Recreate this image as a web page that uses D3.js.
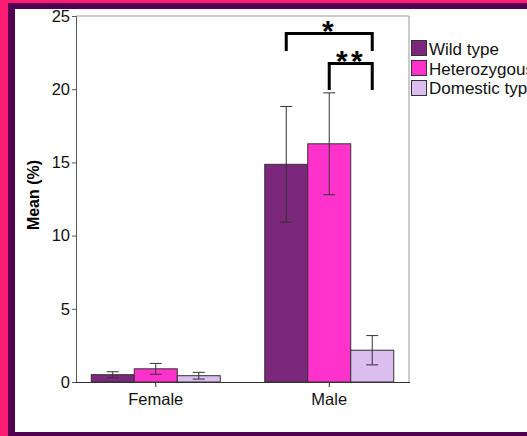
<!DOCTYPE html>
<html><head><meta charset="utf-8">
<script src="https://cdn.jsdelivr.net/npm/d3@7"></script>
<style>body{margin:0;overflow:hidden;background:#fff}svg{display:block}</style>
</head><body>
<script>
const categories = ["Female", "Male"];
const seriesNames = ["Wild type", "Heterozygous", "Domestic type"];
const seriesColors = ["#7b277b", "#ff33cc", "#dcbdf0"];
const wildType = [0.5, 14.87];
const heterozygous = [0.9, 16.27];
const domesticType = [0.43, 2.17];
const wildErr = [0.2, 3.95];
const hetErr = [0.37, 3.48];
const domErr = [0.23, 1.0];
const yTicks = [0, 5, 10, 15, 20, 25];

const W = 527, H = 436;
const FONT = "Liberation Sans, Arial, sans-serif";
const svg = d3.select("body").append("svg").attr("width", W).attr("height", H);

// frame
svg.append("rect").attr("x",0).attr("y",0).attr("width",W).attr("height",H).attr("fill","#ff1a72");
svg.append("rect").attr("x",8).attr("y",3).attr("width",W-8).attr("height",H-3).attr("fill","#520052");
svg.append("rect").attr("x",15).attr("y",9).attr("width",W-15).attr("height",423).attr("fill","#ffffff");

const x0 = 76, x1 = 409, yTop = 16, yBot = 382;
const y = d3.scaleLinear().domain([0,25]).range([yBot, yTop]);
const xb = d3.scaleBand().domain(categories).range([x0, x1]).paddingInner(0.2565).paddingOuter(0.088);
const xs = d3.scaleBand().domain(seriesNames).range([0, xb.bandwidth()]);

// plot frame
svg.append("line").attr("x1",x0).attr("x2",x1).attr("y1",yTop).attr("y2",yTop).attr("stroke","#999").attr("stroke-width",1);
svg.append("line").attr("x1",x1).attr("x2",x1).attr("y1",yTop).attr("y2",yBot).attr("stroke","#999").attr("stroke-width",1);

const values = [wildType, heterozygous, domesticType];
const errs = [wildErr, hetErr, domErr];
const data = [];
categories.forEach((c, ci) => seriesNames.forEach((s, si) => data.push({c, s, si, v: values[si][ci], e: errs[si][ci]})));

const g = svg.append("g");
g.selectAll("rect.bar").data(data).enter().append("rect").attr("class","bar")
  .attr("x", d => xb(d.c) + xs(d.s)).attr("width", xs.bandwidth())
  .attr("y", d => y(d.v)).attr("height", d => y(0) - y(d.v))
  .attr("fill", d => seriesColors[d.si]).attr("stroke","#333").attr("stroke-width",1);

// error bars
const cx = d => xb(d.c)+xs(d.s)+xs.bandwidth()/2;
const eb = g.selectAll("g.err").data(data).enter().append("g").attr("class","err")
  .attr("stroke","#333").attr("stroke-width",1);
eb.append("line").attr("x1", cx).attr("x2", cx)
  .attr("y1", d => y(d.v+d.e)).attr("y2", d => y(d.v-d.e));
eb.append("line").attr("x1", d => cx(d)-6).attr("x2", d => cx(d)+6)
  .attr("y1", d => y(d.v+d.e)).attr("y2", d => y(d.v+d.e));
eb.append("line").attr("x1", d => cx(d)-6).attr("x2", d => cx(d)+6)
  .attr("y1", d => y(d.v-d.e)).attr("y2", d => y(d.v-d.e));

// y axis
const ya = svg.append("g").attr("transform",`translate(${x0},0)`)
  .call(d3.axisLeft(y).tickValues(yTicks).tickSize(4).tickPadding(2));
ya.select(".domain").attr("stroke","#555");
ya.selectAll(".tick line").attr("stroke","#555");
ya.selectAll("text").attr("font-family",FONT).attr("font-size",16.5).attr("fill","#111");

// x axis
const xa = svg.append("g").attr("transform",`translate(0,${yBot})`)
  .call(d3.axisBottom(xb).tickSize(5).tickPadding(6).tickSizeOuter(0));
xa.select(".domain").attr("stroke","#333").attr("d", `M${x0},0.5H${x1+1}`);
xa.selectAll(".tick line").attr("stroke","#333");
xa.selectAll("text").attr("font-family",FONT).attr("font-size",16.5).attr("fill","#111");

// y title
svg.append("text").attr("transform","translate(39,195) rotate(-90)").attr("text-anchor","middle")
  .attr("font-family",FONT).attr("font-size",16).attr("font-weight","bold").text("Mean (%)");

// significance brackets
const maleX = si => xb("Male") + xs(seriesNames[si]) + xs.bandwidth()/2;
const brackets = [
  {a:0, b:2, top:33.5, bottom:51, label:"*"},
  {a:1, b:2, top:63.5, bottom:90, label:"**"}
];
brackets.forEach(br => {
  svg.append("path").attr("d", `M${maleX(br.a)},${br.bottom}V${br.top}H${maleX(br.b)}V${br.bottom}`)
    .attr("fill","none").attr("stroke","#000").attr("stroke-width",3);
  const chars = br.label.split("");
  const mid = (maleX(br.a)+maleX(br.b))/2 - 1.5;
  chars.forEach((ch, k) => {
    svg.append("text").attr("x", mid + (k - (chars.length-1)/2)*15).attr("y", br.top+7).attr("text-anchor","middle")
      .attr("font-family",FONT).attr("font-size",30).attr("font-weight","bold").text(ch);
  });
});

// legend
const lg = svg.append("g");
seriesNames.forEach((s, i) => {
  lg.append("rect").attr("x",411.5).attr("y",40.5+i*20).attr("width",15).attr("height",15)
    .attr("fill",seriesColors[i]).attr("stroke","#333");
  lg.append("text").attr("x",429).attr("y",55+i*19.7)
    .attr("font-family",FONT).attr("font-size",17).attr("fill","#111").text(s);
});
</script>
</body></html>
